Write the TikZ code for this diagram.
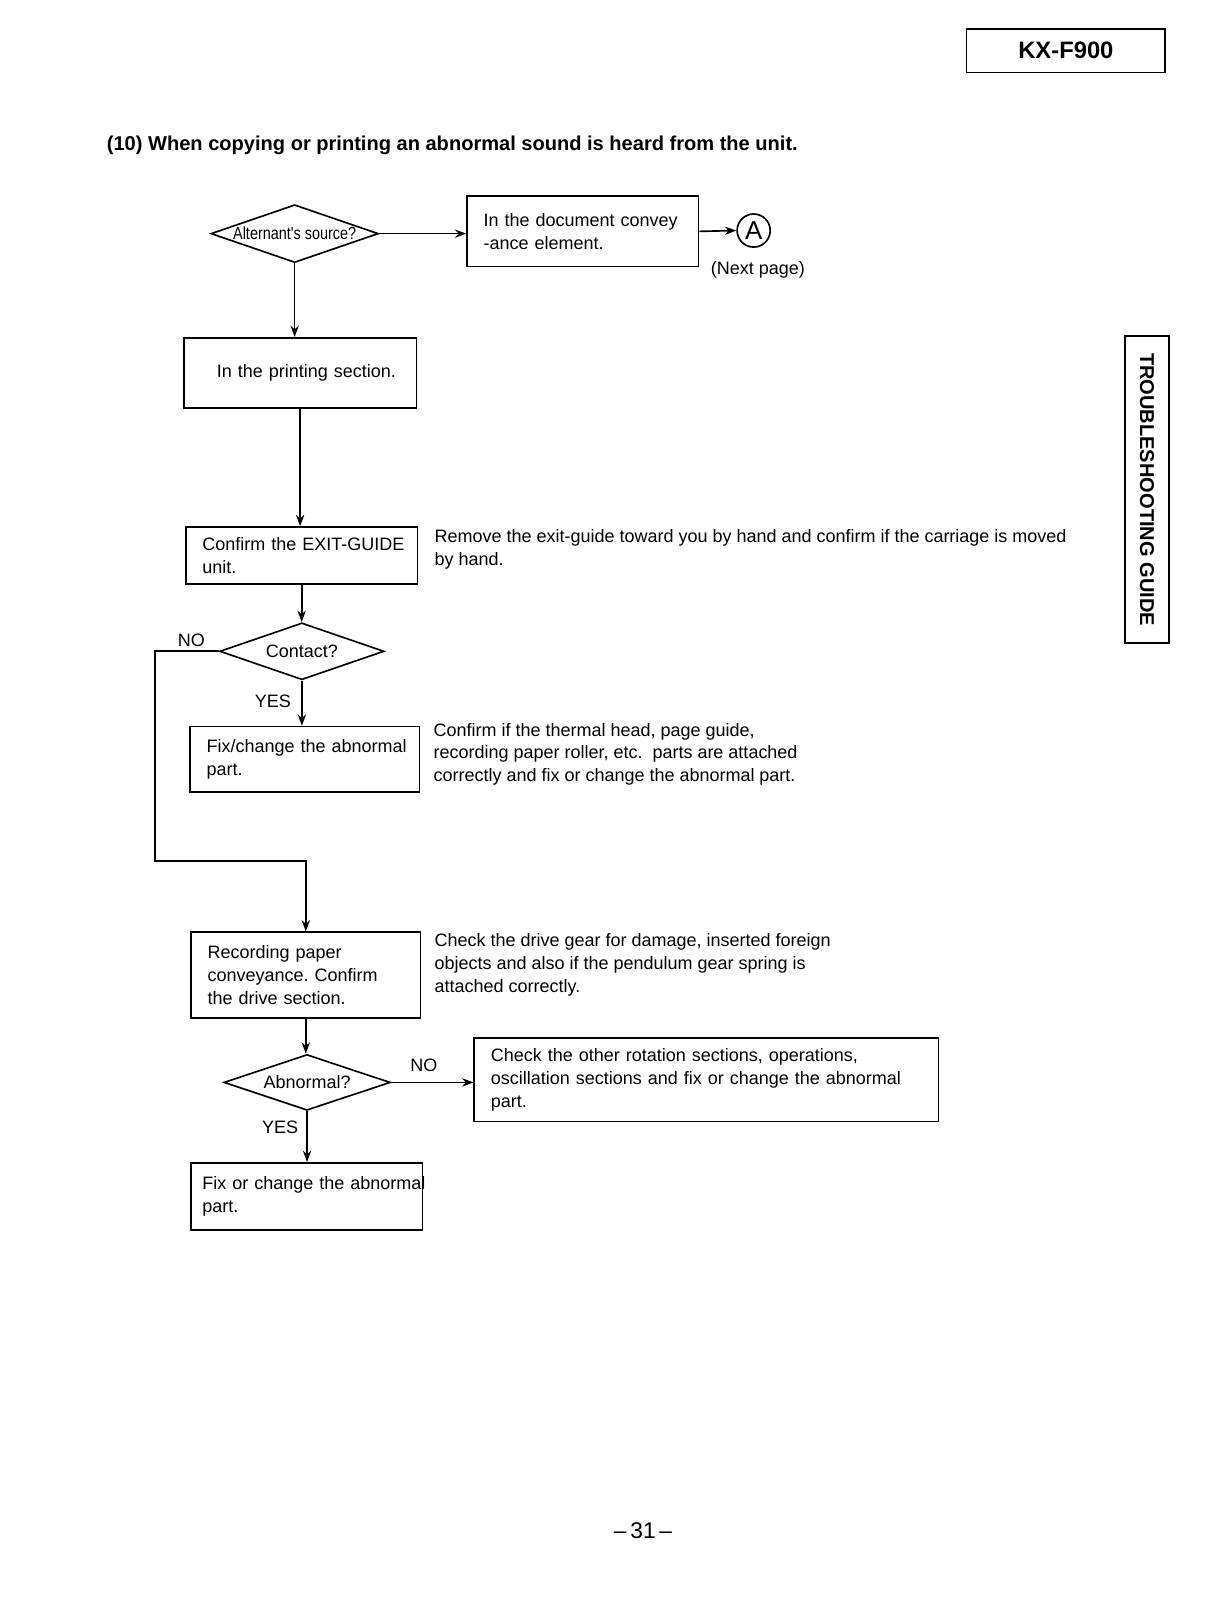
\documentclass[tikz,border=0pt]{standalone}
\usepackage{fontspec}
\setmainfont{Liberation Sans}
\newfontfamily\narrowfont{Liberation Sans}[FakeStretch=0.82]
\usepackage{tikz}
\usetikzlibrary{arrows,arrows.meta,shapes.geometric,positioning}
\frenchspacing
\newcommand{\bodyfont}{\fontsize{8.7}{11}\selectfont}
\tikzstyle{process}  = [rectangle, draw, line width=0.8pt, anchor=north west, align=left, inner xsep=8pt, inner ysep=0pt, font=\bodyfont]
\tikzstyle{decision} = [diamond, draw, line width=0.8pt, shape aspect=2.9, inner sep=0pt, font=\bodyfont]
\tikzstyle{remark}   = [anchor=north west, align=left, inner sep=0pt, font=\bodyfont]
\tikzstyle{answer}   = [inner sep=0pt, font=\bodyfont]
\tikzstyle{arrow}    = [line width=0.8pt,->,>={Stealth[length=5.5pt,width=4pt]}]

\begin{document}
\begin{tikzpicture}[x=0.5pt,y=-0.5pt]
        \useasboundingbox (0,0) rectangle (1176,1567);

        \node[draw, line width=0.8pt, minimum width=96pt, minimum height=21pt, font=\bfseries\fontsize{11.5}{12}\selectfont] (model) at (1031,49) {KX-F900};
        \node[anchor=base west, inner sep=0pt, font=\bfseries\fontsize{9.7}{11}\selectfont] (title) at (103,146) {(10) When copying or printing an abnormal sound is heard from the unit.};
        \node[draw, line width=0.8pt, rotate=-90, minimum width=148.5pt, minimum height=21.5pt, font=\bfseries\fontsize{9.7}{11}\selectfont] (tab) at (1109.5,473.5) {TROUBLESHOOTING GUIDE};

        \node[decision, minimum width=81pt, minimum height=28pt, font=\narrowfont\fontsize{8.5}{9}\selectfont] (source) at (285,226) {Alternant's source?};
        \node[process, text width=96pt, minimum height=34pt] (convey) at (451,189) {In the document convey\\-ance element.};
        \node[circle, draw, line width=0.8pt, minimum size=16pt, inner sep=0pt, font=\fontsize{12.5}{12}\selectfont] (pageA) at (729,223) {A};
        \node[answer] (nextpage) at (733,261) {(Next page)};

        \node[process, align=center, text width=96.5pt, minimum height=34pt] (printing) at (177,326) {\hspace*{6pt}In the printing section.};
        \node[process, text width=96pt, minimum height=27.5pt] (exitguide) at (179,509) {\mbox{Confirm the EXIT-GUIDE}\\unit.};
        \node[remark] (exitnote) at (420,512) {Remove the exit-guide toward you by hand and confirm if the carriage is moved\\by hand.};

        \node[decision, minimum width=79.5pt, minimum height=27.5pt] (contact) at (292,630) {Contact?};
        \node[answer] (contactno) at (185,619) {NO};
        \node[answer] (contactyes) at (264,678) {YES};

        \node[process, text width=95pt, minimum height=31.5pt] (fixhead) at (183,702) {\mbox{Fix/change the abnormal}\\part.};
        \node[remark] (headnote) at (419,699) {Confirm if the thermal head, page guide,\\recording paper roller, etc.\ \ parts are attached\\correctly and fix or change the abnormal part.};

        \node[process, text width=95pt, minimum height=41.5pt] (drive) at (184,901) {Recording paper\\conveyance. Confirm\\the drive section.};
        \node[remark] (drivenote) at (420,903) {Check the drive gear for damage, inserted foreign\\objects and also if the pendulum gear spring is\\attached correctly.};

        \node[decision, minimum width=80.5pt, minimum height=27pt] (abnormal) at (297,1047) {Abnormal?};
        \node[answer] (abnormalno) at (410,1030) {NO};
        \node[answer] (abnormalyes) at (271,1090) {YES};

        \node[process, text width=208.5pt, minimum height=40.5pt] (rotation) at (458,1003) {Check the other rotation sections, operations,\\oscillation sections and fix or change the abnormal\\part.};
        \node[process, inner xsep=5.5pt, text width=101pt, minimum height=32.5pt] (fixpart) at (184,1124) {\mbox{Fix or change the abnormal}\\part.};

        \node[font=\fontsize{11}{12}\selectfont] (pageno) at (622,1481) {--\,31\,--};

        \coordinate (noturn) at (150,833);

        \draw[arrow] (source.east) -- (source.east -| convey.west);
        \draw[arrow] (convey.east) -- (pageA.west);
        \draw[arrow] (source.south) -- (source.south |- printing.north);
        \draw[arrow] (printing.south) -- (printing.south |- exitguide.north);
        \draw[arrow] (exitguide.south) -- (exitguide.south |- contact.north);
        \draw[arrow] (contact.south) -- (contact.south |- fixhead.north);
        \draw[arrow] (contact.west) -| (noturn) -| (drive.north);
        \draw[arrow] (drive.south) -- (drive.south |- abnormal.north);
        \draw[arrow] (abnormal.east) -- (abnormal.east -| rotation.west);
        \draw[arrow] (abnormal.south) -- (abnormal.south |- fixpart.north);
    \end{tikzpicture}
\end{document}
